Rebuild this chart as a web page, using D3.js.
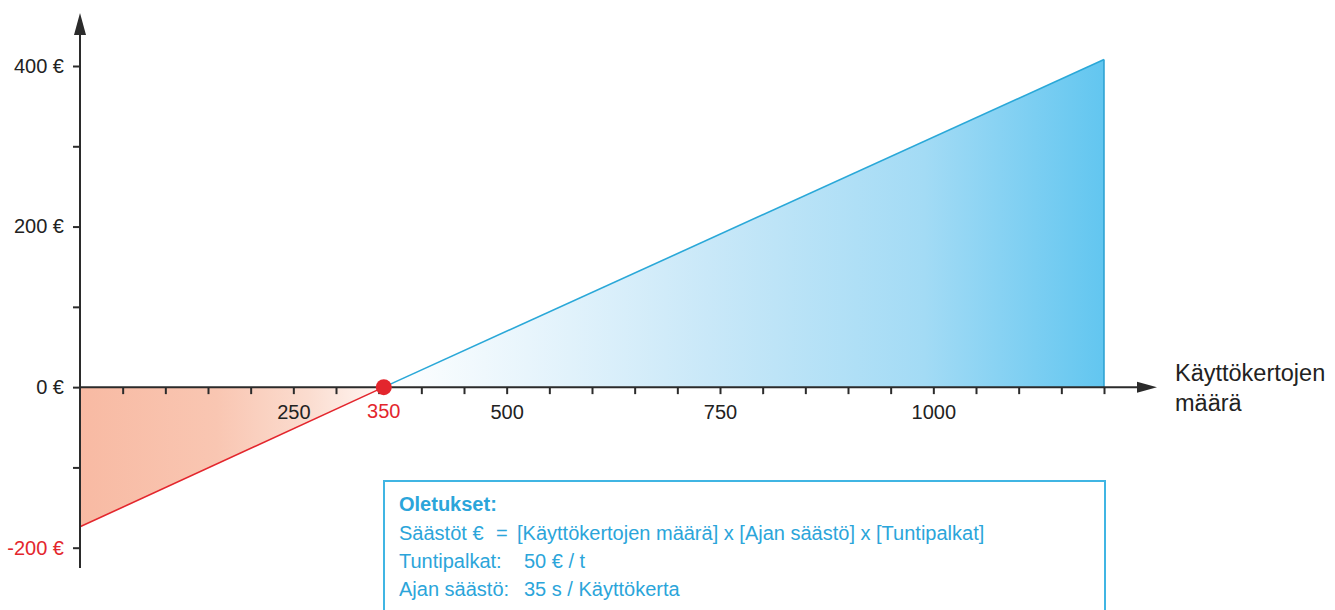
<!DOCTYPE html>
<html><head><meta charset="utf-8">
<script src="https://cdn.jsdelivr.net/npm/d3@7"></script>
<style>
html,body{margin:0;padding:0;background:#fff;}
svg{display:block;font-family:"Liberation Sans",Arial,Helvetica,sans-serif;}
</style></head>
<body>
<svg id="chart" width="1335" height="610"></svg>
<script>
// ---- data ----
const lossLine = [[0, -174], [356, 0]];          // red segment (cost side)
const gainLine = [[356, 0], [1200, 408]];        // blue segment (savings side)
const breakEven = [356, 0];
const yTickValues = [-200, -100, 0, 100, 200, 300, 400];
const yLabelValues = [-200, 0, 200, 400];
const xTickValues = d3.range(50, 1201, 50);
const xLabelValues = [250, 500, 750, 1000];
const breakEvenLabel = "350";
const xAxisTitle = ["Käyttökertojen", "määrä"];
const noteTitle = "Oletukset:";
const noteRows = [
  ["Säästöt €", "=", "[Käyttökertojen määrä] x [Ajan säästö] x [Tuntipalkat]"],
  ["Tuntipalkat:", "", "50 € / t"],
  ["Ajan säästö:", "", "35 s / Käyttökerta"]
];

// ---- layout ----
const svg = d3.select("#chart");
const x = d3.scaleLinear().domain([0, 1200]).range([80, 1104]);
const y = d3.scaleLinear().domain([-200, 400]).range([547.7, 66]);
const axisColor = "#2b2b2b", red = "#e3262d", blue = "#2aa8d8", textBlue = "#2ba5da";
const tickFont = 20;
const noteFont = 20;

const defs = svg.append("defs");
const gRed = defs.append("linearGradient").attr("id", "gRed")
  .attr("gradientUnits", "userSpaceOnUse").attr("x1", x(0)).attr("x2", x(356)).attr("y1", 0).attr("y2", 0);
[[0, "#f8baa3"], [0.45, "#f9c6b2"], [0.75, "#fbdccf"], [1, "#fff8f5"]].forEach(s =>
  gRed.append("stop").attr("offset", s[0]).attr("stop-color", s[1]));
const gBlue = defs.append("linearGradient").attr("id", "gBlue")
  .attr("gradientUnits", "userSpaceOnUse").attr("x1", x(356)).attr("x2", x(1200)).attr("y1", 0).attr("y2", 0);
[[0, "#ffffff"], [0.2, "#e8f5fc"], [0.45, "#c9e8f8"], [0.75, "#a3dbf5"], [1, "#62c6f0"]].forEach(s =>
  gBlue.append("stop").attr("offset", s[0]).attr("stop-color", s[1]));

// areas
const area = d3.area().x(d => x(d[0])).y0(y(0)).y1(d => y(d[1]));
svg.append("path").datum(lossLine).attr("d", area).attr("fill", "url(#gRed)");
svg.append("path").datum(gainLine).attr("d", area).attr("fill", "url(#gBlue)");
// right edge of blue area
const last = gainLine[gainLine.length - 1];
svg.append("line").attr("x1", x(last[0])).attr("x2", x(last[0]))
  .attr("y1", y(0)).attr("y2", y(last[1])).attr("stroke", "#2a9fd0").attr("stroke-width", 1.5);

// lines
const line = d3.line().x(d => x(d[0])).y(d => y(d[1]));
svg.append("path").datum(lossLine).attr("d", line).attr("fill", "none").attr("stroke", red).attr("stroke-width", 1.6);
svg.append("path").datum(gainLine).attr("d", line).attr("fill", "none").attr("stroke", blue).attr("stroke-width", 1.6);

// y axis
const yAxis = d3.axisLeft(y).tickValues(yTickValues).tickSize(7).tickPadding(9)
  .tickFormat(d => yLabelValues.includes(d) ? d + " €" : "");
const gy = svg.append("g").attr("transform", `translate(${x(0)},0)`).call(yAxis);
gy.select(".domain").remove();
gy.selectAll(".tick line").attr("stroke", axisColor).attr("stroke-width", 2);
gy.selectAll(".tick text").attr("font-size", tickFont).attr("fill", d => d < 0 ? red : "#222")
  .attr("font-family", "Liberation Sans, Arial, sans-serif");
svg.append("line").attr("x1", x(0)).attr("x2", x(0)).attr("y1", 568).attr("y2", 30)
  .attr("stroke", axisColor).attr("stroke-width", 2);
svg.append("path").attr("d", `M${x(0)},13 L${x(0) - 6},35 L${x(0) + 6},35 Z`).attr("fill", axisColor);

// x axis
const xAxis = d3.axisBottom(x).tickValues(xTickValues).tickSize(7).tickPadding(11)
  .tickFormat(d => xLabelValues.includes(d) ? d : "");
const gx = svg.append("g").attr("transform", `translate(0,${y(0)})`).call(xAxis);
gx.select(".domain").remove();
gx.selectAll(".tick line").attr("stroke", axisColor).attr("stroke-width", 2);
gx.selectAll(".tick text").attr("font-size", tickFont).attr("fill", "#222")
  .attr("font-family", "Liberation Sans, Arial, sans-serif");
svg.append("line").attr("x1", x(0)).attr("x2", 1140).attr("y1", y(0)).attr("y2", y(0))
  .attr("stroke", axisColor).attr("stroke-width", 2);
svg.append("path").attr("d", `M1157,${y(0)} L1137,${y(0) - 5.5} L1137,${y(0) + 5.5} Z`).attr("fill", axisColor);

// break-even point
svg.append("circle").attr("cx", x(breakEven[0])).attr("cy", y(breakEven[1])).attr("r", 8).attr("fill", red);
svg.append("text").attr("x", x(breakEven[0])).attr("y", y(0) + 31).attr("text-anchor", "middle")
  .attr("font-size", tickFont).attr("fill", red).text(breakEvenLabel);

// x axis title
svg.selectAll(".xt").data(xAxisTitle).join("text")
  .attr("x", 1175).attr("y", (d, i) => 381 + i * 30).attr("font-size", 23.5).attr("fill", "#222").text(d => d);

// note box
svg.append("rect").attr("x", 384).attr("y", 481).attr("width", 721).attr("height", 160)
  .attr("fill", "#fff").attr("stroke", "#40b5e3").attr("stroke-width", 2);
svg.append("text").attr("x", 399).attr("y", 511).attr("font-size", noteFont).attr("font-weight", "bold")
  .attr("fill", textBlue).text(noteTitle);
const cols = [399, 496, 517];
noteRows.forEach((r, i) => {
  const yy = 540 + i * 28;
  const xs = i === 0 ? cols : [399, 0, 524];
  r.forEach((t, j) => {
    if (!t) return;
    svg.append("text").attr("x", xs[j]).attr("y", yy).attr("font-size", noteFont).attr("fill", textBlue).text(t);
  });
});
</script>
</body></html>
